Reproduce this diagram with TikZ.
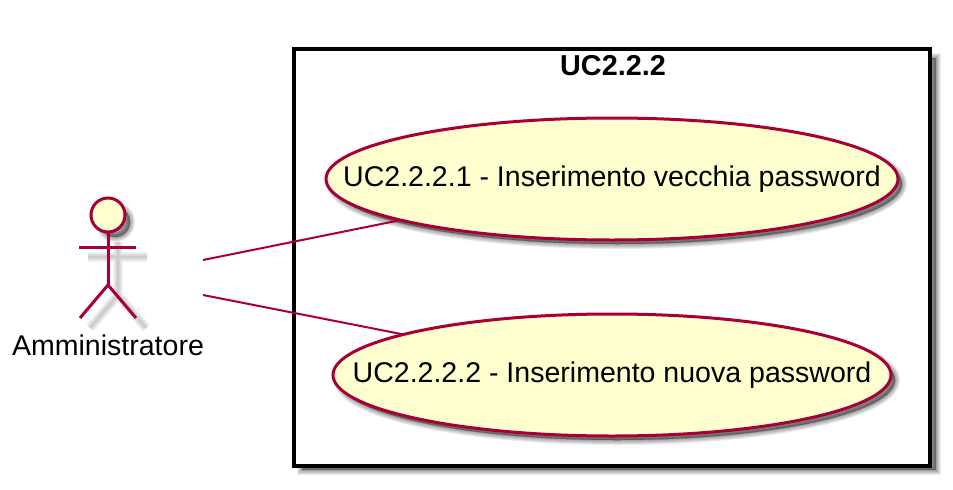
\documentclass[tikz,border=0pt]{standalone}
\usepackage{fontspec}
\setmainfont{Liberation Sans}
\usetikzlibrary{shapes.geometric}
\definecolor{umlline}{HTML}{A80036}
\definecolor{umlfill}{HTML}{FEFECE}
\newcommand{\labelfont}{\fontsize{21.4pt}{25pt}\selectfont}
\newcommand{\centred}[1]{\raisebox{-5.5pt}[0pt][0pt]{\makebox[0pt]{\labelfont #1}}}
\tikzset{
  x=0.75pt,y=-0.75pt,
  usecase/.style={ellipse,draw=umlline,fill=umlfill,line width=2.25pt,inner sep=0pt,outer sep=0pt},
  framebox/.style={draw=black,fill=white,line width=3pt},
  limb/.style={draw=umlline,line width=2.25pt},
  link/.style={draw=umlline,line width=1.5pt},
  softshade/.style={black,opacity=0.08},
  softline/.style={black,opacity=0.045},
}
\newcommand{\softlines}[1]{%
  \foreach \w in {1.5,3,4.5,6,7.5}{\draw[softline,line width=\w pt] #1;}}
\newcommand{\softfill}[1]{%
  \foreach \w in {0,1.5,3,4.5,6,7.5}{\fill[softshade,draw=black,line width=\w pt] #1;}}
\begin{document}
\begin{tikzpicture}
\useasboundingbox (0,0) rectangle (953,489);
% frame
\softfill{(302,58) rectangle (936,470)}
\draw[framebox] (294,48.5) rectangle (930,466);
\node[font=\bfseries\fontsize{21.6pt}{25pt}\selectfont] (frametitle) at (613,66) {UC2.2.2};
% use cases
\softfill{(617,184) ellipse [x radius=285,y radius=60]}
\softfill{(617,380) ellipse [x radius=278,y radius=60]}
\node[usecase,minimum width=429pt,minimum height=91.5pt] (uc1) at (612,179) {\centred{UC2.2.2.1 - Inserimento vecchia password}};
\node[usecase,minimum width=418.5pt,minimum height=91.5pt] (uc2) at (612,375) {\centred{UC2.2.2.2 - Inserimento nuova password}};
% actor
\softfill{(115,222) circle [radius=15]}
\softlines{(88,257) -- (147,257) (118,242) -- (118,295) -- (90,328) (118,295) -- (146,328)}
\node[circle,draw=umlline,fill=umlfill,line width=2.25pt,minimum size=25.5pt,inner sep=0pt,outer sep=0pt] (head) at (108,215) {};
\coordinate (hip) at (108,285);
\coordinate (armL) at (79,247);
\coordinate (armR) at (136,247);
\coordinate (legL) at (80,318);
\coordinate (legR) at (136,318);
\draw[limb] (head.south) -- (hip);
\draw[limb] (armL) -- (armR);
\draw[limb] (legL) -- (hip) -- (legR);
\node[font=\labelfont] (actor) at (108,345) {Amministratore};
% connectors
\coordinate (a1) at (203,260);
\coordinate (a2) at (203,295);
\draw[link] (a1) -- (uc1.191);
\draw[link] (a2) -- (uc2.169);
\end{tikzpicture}
\end{document}
